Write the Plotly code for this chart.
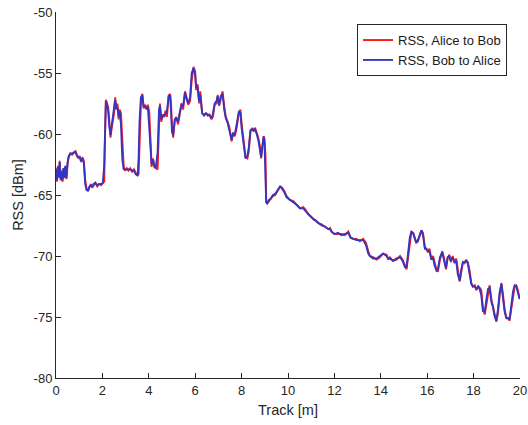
import plotly.graph_objects as go

track = [0.00, 0.04, 0.08, 0.12, 0.16, 0.20, 0.24, 0.28, 0.32, 0.36, 0.40, 0.45, 0.50, 0.55, 0.62, 0.70, 0.78, 0.84, 0.90, 0.96,
         1.02, 1.08, 1.14, 1.20, 1.26, 1.32, 1.38, 1.44, 1.50, 1.56, 1.62, 1.70, 1.78, 1.86, 1.94, 2.02, 2.08, 2.10, 2.15, 2.20,
         2.25, 2.30, 2.35, 2.40, 2.45, 2.50, 2.55, 2.60, 2.65, 2.70, 2.74, 2.80, 2.86, 2.92, 2.98, 3.05, 3.12, 3.20, 3.28, 3.36,
         3.44, 3.52, 3.56, 3.60, 3.66, 3.72, 3.78, 3.84, 3.90, 3.96, 4.02, 4.08, 4.12, 4.18, 4.24, 4.30, 4.38, 4.44, 4.48, 4.54,
         4.60, 4.66, 4.72, 4.78, 4.86, 4.92, 4.96, 5.00, 5.05, 5.12, 5.18, 5.26, 5.34, 5.41, 5.48, 5.56, 5.62, 5.70, 5.78, 5.85,
         5.93, 6.00, 6.04, 6.10, 6.17, 6.22, 6.30, 6.38, 6.46, 6.54, 6.62, 6.70, 6.76, 6.84, 6.92, 6.97, 7.03, 7.10, 7.18, 7.25,
         7.32, 7.40, 7.47, 7.57, 7.63, 7.70, 7.77, 7.88, 7.95, 8.00, 8.10, 8.17, 8.25, 8.31, 8.38, 8.46, 8.52, 8.58, 8.65, 8.72,
         8.80, 8.84, 8.90, 8.95, 8.99, 9.03, 9.06, 9.10, 9.18, 9.25, 9.35, 9.45, 9.55, 9.66, 9.75, 9.85, 9.94, 10.08, 10.23, 10.37,
         10.52, 10.66, 10.75, 10.88, 11.00, 11.10, 11.20, 11.31, 11.45, 11.60, 11.74, 11.81, 11.88, 12.00, 12.16, 12.30, 12.45, 12.60, 12.70, 12.80,
         12.95, 13.10, 13.24, 13.36, 13.46, 13.53, 13.67, 13.82, 13.96, 14.10, 14.25, 14.32, 14.39, 14.53, 14.68, 14.83, 14.94, 15.04, 15.11, 15.18,
         15.25, 15.32, 15.40, 15.47, 15.53, 15.60, 15.68, 15.75, 15.82, 15.90, 15.96, 16.03, 16.10, 16.18, 16.25, 16.32, 16.40, 16.46, 16.55, 16.65,
         16.73, 16.81, 16.88, 16.95, 17.02, 17.10, 17.18, 17.25, 17.32, 17.40, 17.47, 17.54, 17.61, 17.68, 17.75, 17.83, 17.90, 17.97, 18.05, 18.12,
         18.20, 18.26, 18.33, 18.40, 18.48, 18.55, 18.62, 18.69, 18.77, 18.84, 18.90, 18.98, 19.05, 19.12, 19.20, 19.27, 19.34, 19.41, 19.49, 19.55,
         19.62, 19.70, 19.77, 19.84, 19.91, 19.98, 20.02]

rss_alice_to_bob = [-62.8, -63.9, -62.6, -63.6, -62.2, -63.8, -63.0, -63.9, -62.9, -63.5, -62.7, -63.7, -62.4, -61.9, -61.6, -61.7, -61.5, -61.4, -61.7, -62.0,
                    -61.8, -62.3, -61.9, -62.2, -63.8, -64.5, -64.7, -64.4, -64.1, -64.4, -64.2, -64.0, -64.3, -64.1, -64.2, -64.0, -63.9, -61.2, -57.2, -57.5,
                    -57.8, -59.0, -60.3, -59.5, -58.8, -58.4, -57.0, -58.0, -57.5, -58.8, -58.0, -58.3, -60.5, -62.7, -63.0, -62.8, -63.0, -62.8, -63.1, -62.9,
                    -63.2, -63.4, -63.3, -60.7, -57.5, -56.7, -57.9, -57.6, -58.0, -57.6, -58.2, -60.7, -62.7, -62.0, -62.6, -62.8, -62.9, -59.4, -57.5, -59.0,
                    -58.4, -58.6, -58.1, -58.6, -56.9, -56.7, -57.5, -59.4, -60.3, -58.9, -58.6, -59.2, -58.4, -57.5, -58.0, -56.5, -56.9, -57.6, -57.3, -55.6,
                    -54.5, -54.9, -56.4, -55.9, -57.5, -56.5, -58.3, -58.4, -58.3, -58.5, -58.4, -58.8, -58.6, -57.6, -57.5, -56.8, -57.7, -57.1, -56.5, -57.7,
                    -58.6, -59.0, -59.4, -60.6, -59.9, -60.2, -59.7, -58.3, -58.0, -59.1, -60.7, -61.9, -62.0, -61.4, -59.8, -59.5, -59.8, -59.5, -59.9, -60.3,
                    -61.1, -62.0, -61.1, -60.2, -60.4, -61.8, -65.4, -65.7, -65.5, -65.3, -65.1, -65.0, -64.7, -64.3, -64.4, -64.7, -65.1, -65.4, -65.5, -65.8,
                    -66.1, -66.0, -66.2, -66.6, -66.8, -66.9, -67.1, -67.3, -67.4, -67.6, -67.8, -67.7, -68.0, -68.2, -68.2, -68.2, -68.3, -68.0, -68.5, -68.6,
                    -68.6, -68.8, -68.6, -68.9, -69.6, -70.0, -70.1, -70.3, -70.1, -69.8, -69.9, -70.3, -70.1, -70.4, -70.3, -70.0, -70.3, -70.8, -71.1, -70.1,
                    -68.9, -68.0, -68.1, -68.5, -68.9, -68.8, -68.4, -67.9, -68.1, -69.3, -69.4, -69.7, -69.4, -70.3, -70.0, -70.6, -71.1, -71.3, -70.3, -69.6,
                    -70.2, -71.1, -70.2, -69.9, -70.5, -70.0, -70.6, -70.2, -71.2, -72.1, -71.3, -70.5, -70.6, -70.3, -70.5, -71.2, -72.2, -72.5, -72.4, -72.8,
                    -72.5, -72.6, -72.8, -74.2, -74.8, -73.9, -72.9, -72.4, -73.6, -74.1, -74.7, -75.4, -74.7, -73.3, -72.2, -73.2, -74.4, -75.0, -75.1, -75.3,
                    -74.4, -73.0, -72.5, -72.4, -72.8, -73.5, -73.3]

rss_bob_to_alice = [-62.9, -63.8, -62.7, -63.5, -62.3, -63.7, -63.1, -63.8, -62.8, -63.6, -62.6, -63.6, -62.3, -61.8, -61.6, -61.6, -61.5, -61.5, -61.8, -61.9,
                    -61.9, -62.2, -62.0, -62.4, -64.1, -64.6, -64.6, -64.3, -64.2, -64.3, -64.1, -64.0, -64.2, -64.1, -64.1, -64.0, -62.5, -60.0, -57.3, -57.6,
                    -58.1, -59.4, -60.1, -59.3, -58.6, -57.8, -57.2, -57.9, -57.8, -58.6, -58.1, -59.2, -62.1, -62.9, -62.9, -62.9, -62.9, -62.9, -63.0, -63.0,
                    -63.3, -63.4, -62.0, -59.0, -57.0, -56.8, -57.8, -57.7, -57.9, -57.8, -59.5, -62.0, -62.5, -62.1, -62.7, -62.8, -61.5, -58.0, -57.7, -58.8,
                    -58.5, -58.5, -58.3, -58.2, -56.8, -56.9, -58.2, -59.8, -60.1, -58.8, -58.7, -59.0, -58.2, -57.6, -57.7, -56.6, -57.1, -57.5, -57.0, -55.0,
                    -54.6, -55.2, -56.2, -56.1, -57.3, -56.8, -58.3, -58.5, -58.3, -58.4, -58.5, -58.7, -58.4, -57.5, -57.3, -56.9, -57.6, -56.9, -56.7, -58.0,
                    -58.7, -59.1, -59.7, -60.5, -59.9, -60.1, -59.4, -58.2, -58.3, -59.5, -61.0, -62.0, -61.8, -61.1, -59.7, -59.6, -59.7, -59.6, -60.0, -60.5,
                    -61.4, -61.9, -60.9, -60.2, -60.8, -63.5, -65.6, -65.7, -65.4, -65.3, -65.0, -64.9, -64.6, -64.3, -64.5, -64.8, -65.2, -65.4, -65.6, -65.8,
                    -66.1, -66.1, -66.3, -66.6, -66.8, -67.0, -67.1, -67.3, -67.5, -67.6, -67.8, -67.8, -68.0, -68.2, -68.1, -68.3, -68.2, -68.1, -68.5, -68.6,
                    -68.7, -68.7, -68.7, -69.1, -69.8, -70.0, -70.2, -70.2, -70.0, -69.8, -70.0, -70.2, -70.2, -70.4, -70.2, -70.1, -70.4, -70.9, -70.9, -69.6,
                    -68.5, -68.0, -68.2, -68.6, -68.9, -68.7, -68.2, -67.9, -68.3, -69.4, -69.4, -69.6, -69.6, -70.3, -70.1, -70.8, -71.2, -71.1, -70.1, -69.7,
                    -70.4, -71.0, -70.1, -70.0, -70.4, -70.1, -70.5, -70.4, -71.5, -72.0, -71.1, -70.5, -70.5, -70.4, -70.6, -71.5, -72.3, -72.5, -72.5, -72.7,
                    -72.5, -72.7, -73.2, -74.5, -74.6, -73.6, -72.7, -72.6, -73.8, -74.2, -74.9, -75.3, -74.4, -73.0, -72.3, -73.5, -74.6, -75.1, -75.1, -75.2,
                    -74.1, -72.9, -72.4, -72.5, -73.0, -73.5, -73.4]

x_ticks = [0, 2, 4, 6, 8, 10, 12, 14, 16, 18, 20]
y_ticks = [-80, -75, -70, -65, -60, -55, -50]

font_family = "Liberation Sans, Arial, Helvetica, sans-serif"
axis_color = "#262626"

fig = go.Figure()
fig.add_trace(go.Scatter(x=track, y=rss_alice_to_bob, mode="lines", name="RSS, Alice to Bob",
                         line=dict(color="#ff1a1a", width=1.9)))
fig.add_trace(go.Scatter(x=track, y=rss_bob_to_alice, mode="lines", name="RSS, Bob to Alice",
                         line=dict(color="#3535c2", width=1.9)))

fig.update_layout(
    width=528, height=425,
    margin=dict(l=56, r=8, t=12, b=47, autoexpand=False),
    paper_bgcolor="white", plot_bgcolor="white",
    font=dict(family=font_family, size=13, color=axis_color),
    showlegend=True,
    legend=dict(x=0.972, y=0.967, xanchor="right", yanchor="top",
                bgcolor="white", bordercolor=axis_color, borderwidth=1,
                font=dict(size=13, color="#1a1a1a"), tracegroupgap=0),
)
fig.update_xaxes(range=[0, 20], tickvals=x_ticks, ticktext=[str(v) for v in x_ticks],
                 showline=True, linecolor=axis_color, linewidth=1, mirror=False,
                 ticks="inside", ticklen=5, tickcolor=axis_color,
                 showgrid=False, zeroline=False, automargin=False,
                 title=dict(text="Track [m]", font=dict(size=14.5), standoff=8))
fig.update_yaxes(range=[-80, -50], tickvals=y_ticks, ticktext=[str(v) for v in y_ticks],
                 showline=True, linecolor=axis_color, linewidth=1, mirror=False,
                 ticks="inside", ticklen=5, tickcolor=axis_color,
                 showgrid=False, zeroline=False, automargin=False,
                 title=dict(text="RSS [dBm]", font=dict(size=14.5), standoff=6))

fig.write_html("out.html", config={"displayModeBar": False},
               post_script="document.body.style.margin='0px';")
